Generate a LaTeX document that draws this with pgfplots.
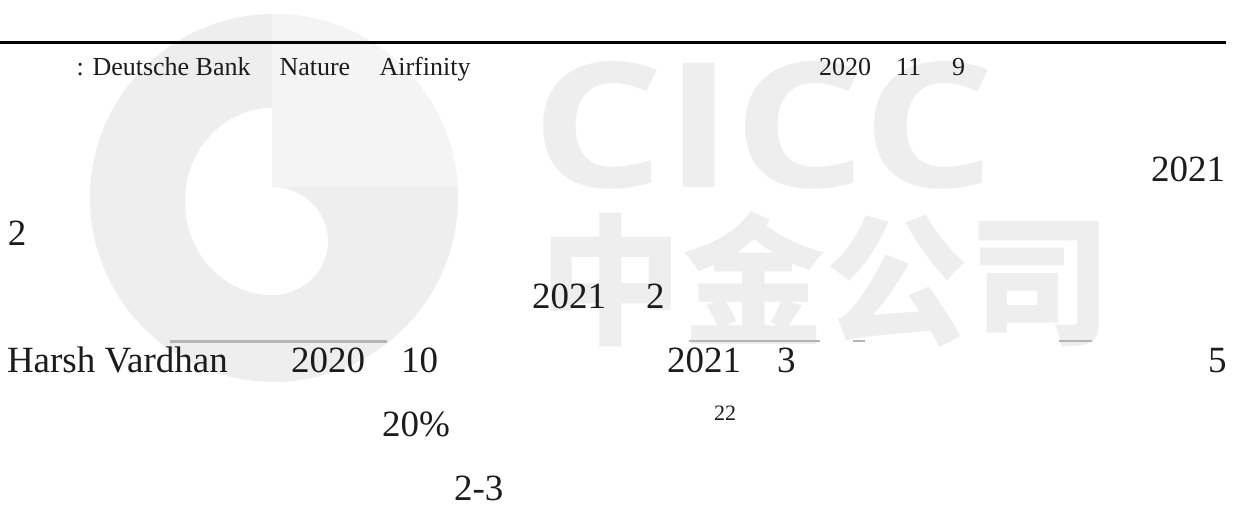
\documentclass[border=0pt]{standalone}
\usepackage{fontspec}
\setmainfont{Liberation Serif}
\newfontfamily\logofont{Open Sans}
\newfontfamily\cjk{Noto Sans CJK SC}
\usepackage{graphicx}
\usepackage{pgfplots}
\pgfplotsset{compat=1.18}

\definecolor{wm}{HTML}{EEEEEE}
\definecolor{wml}{HTML}{F4F4F4}
\definecolor{ink}{HTML}{1C1C1C}
\definecolor{artef}{HTML}{B4B4B4}

\newcommand{\bodyfont}{\fontsize{18.5pt}{22pt}\selectfont}
\newcommand{\srcfont}{\fontsize{13pt}{16pt}\selectfont}

\begin{document}
\begin{tikzpicture}
\begin{axis}[
    width=619pt, height=253pt, scale only axis,
    xmin=0, xmax=1238, ymin=0, ymax=506, y dir=reverse,
    axis lines=none, ticks=none,
    axis background/.style={fill=white},
]
\path (axis cs:0,0) rectangle (axis cs:1238,506);

% watermark: round logo
\fill[wm] (axis cs:274,198) circle [radius=92pt];
\begin{scope}
  \clip (axis cs:274,198) circle [radius=92pt];
  \fill[wml] (axis cs:272,0) rectangle (axis cs:470,187);
\end{scope}
\fill[white] (axis cs:272,108)
  arc[start angle=90, end angle=270, x radius=43.5pt, y radius=46.75pt]
  arc[start angle=270, end angle=360, x radius=28pt, y radius=27pt]
  arc[start angle=0, end angle=90, x radius=28pt, y radius=27pt]
  -- cycle;

% watermark: letters
\node[anchor=south west, inner sep=0pt, text=wm] at (axis cs:531,190)
  {\resizebox{232pt}{63pt}{\logofont\bfseries CICC}};
\node[anchor=center, inner sep=0pt, text=wm] at (axis cs:825,280)
  {\resizebox*{286pt}{68pt}{\cjk\bfseries 中金公司}};

% scan artefacts
\addplot[artef, line width=1.5pt] coordinates {(170,342) (387,342)};
\addplot[artef, line width=1pt] coordinates {(689,341) (820,341)};
\addplot[artef, line width=1pt] coordinates {(853,341) (865,341)};
\addplot[artef, line width=1pt] coordinates {(1059,341) (1092,341)};

% rule
\addplot[black, line width=1.5pt] coordinates {(0,43) (1226,43)};

% source line
\begin{scope}[every node/.style={anchor=base west, inner sep=0pt, outer sep=0pt, text=ink, font=\srcfont}]
\node at (axis cs:76.5,76) {:};
\node at (axis cs:92.5,76) {Deutsche Bank};
\node at (axis cs:279.5,76) {Nature};
\node at (axis cs:379.5,76) {Airfinity};
\node at (axis cs:819,76) {2020};
\node at (axis cs:896,76) {11};
\node at (axis cs:952,76) {9};
\end{scope}

% body text
\begin{scope}[every node/.style={anchor=base west, inner sep=0pt, outer sep=0pt, text=ink, font=\bodyfont}]
\node at (axis cs:1151,182) {2021};
\node at (axis cs:8,246) {2};
\node at (axis cs:532,309) {2021};
\node at (axis cs:646,309) {2};
\node at (axis cs:7,373) {Harsh Vardhan};
\node at (axis cs:291,373) {2020};
\node at (axis cs:401,373) {10};
\node at (axis cs:667,373) {2021};
\node at (axis cs:777,373) {3};
\node at (axis cs:1208,373) {5};
\node at (axis cs:382,437) {20\%};
\node[font=\fontsize{11pt}{13pt}\selectfont] at (axis cs:714,421) {22};
\node at (axis cs:454,501) {2-3};
\end{scope}
\end{axis}
\end{tikzpicture}
\end{document}
